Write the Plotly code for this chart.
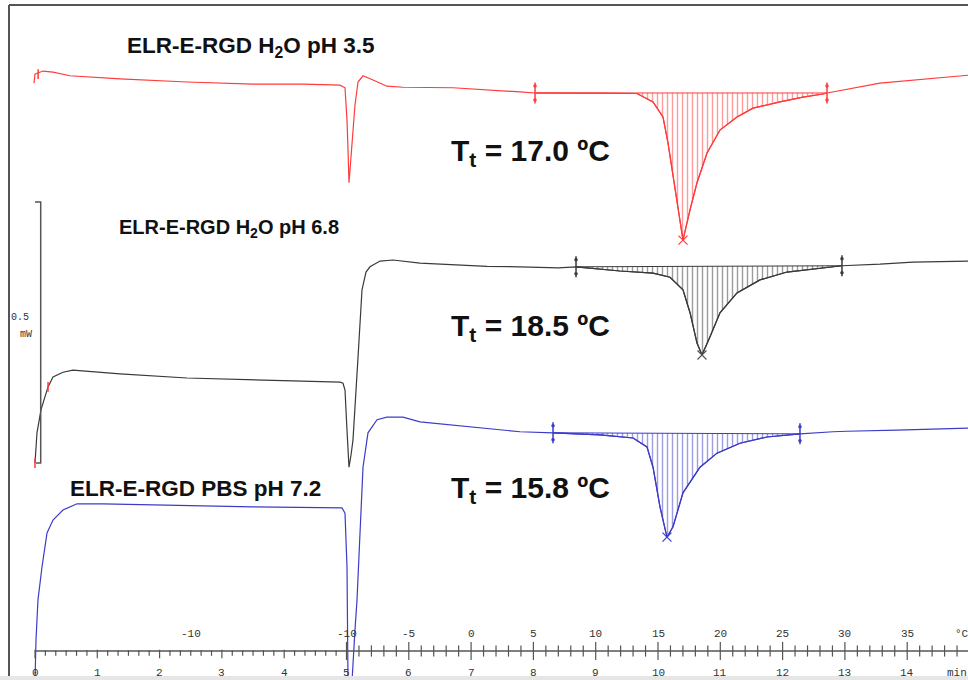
import plotly.graph_objects as go
import numpy as np

# ---------------- data (time in min, heat flow in mW, stacked as displayed) ----------------
red_t = [-0.016, 0.000, 0.128, 0.289, 0.562, 1.364, 2.440, 3.499, 4.302, 4.896, 4.976, 5.008, 5.024,
         5.040, 5.056, 5.088, 5.136, 5.185, 5.265, 5.425, 5.650, 5.907, 6.709, 7.785, 8.026, 9.069,
         9.663, 9.920, 10.080, 10.161, 10.241, 10.321, 10.401, 10.514, 10.626, 10.787, 10.995, 11.268,
         11.525, 11.958, 12.327, 12.648, 12.713, 13.563, 14.093, 14.976]
red_q = [1.088, 1.105, 1.111, 1.109, 1.102, 1.096, 1.090, 1.086, 1.086, 1.084, 1.079, 1.017, 0.960,
         0.897, 0.921, 0.979, 1.046, 1.090, 1.102, 1.094, 1.082, 1.080, 1.079, 1.071, 1.069, 1.069,
         1.068, 1.052, 1.023, 0.973, 0.908, 0.845, 0.787, 0.845, 0.897, 0.954, 0.998, 1.023,
         1.040, 1.052, 1.061, 1.067, 1.069, 1.088, 1.094, 1.103]

blk_t = [0.000, 0.032, 0.096, 0.209, 0.289, 0.449, 0.610, 0.835, 1.364, 2.440, 3.499, 4.254, 4.896,
         4.944, 4.976, 5.008, 5.040, 5.072, 5.104, 5.185, 5.249, 5.313, 5.377, 5.538, 5.746, 6.180,
         7.255, 7.785, 8.400, 8.684, 9.390, 9.920, 10.193, 10.401, 10.514, 10.626, 10.706, 10.835,
         10.995, 11.268, 11.637, 12.071, 12.600, 12.953, 13.563, 14.093, 14.976]
blk_q = [0.360, 0.418, 0.462, 0.506, 0.525, 0.534, 0.538, 0.536, 0.531, 0.523, 0.519, 0.517, 0.515,
         0.513, 0.500, 0.423, 0.352, 0.375, 0.404, 0.563, 0.692, 0.726, 0.736, 0.747, 0.749, 0.743,
         0.737, 0.736, 0.734, 0.736, 0.728, 0.724, 0.716, 0.692, 0.648, 0.590, 0.567, 0.602,
         0.648, 0.686, 0.711, 0.726, 0.734, 0.738, 0.741, 0.745, 0.747]

blu_t = [0.000, 0.016, 0.048, 0.112, 0.193, 0.289, 0.449, 0.674, 1.091, 2.440, 3.499, 4.928, 4.976,
         5.008, 5.024, 5.056, 5.088, 5.136, 5.169, 5.217, 5.265, 5.345, 5.490, 5.650, 5.907, 6.180,
         6.709, 7.785, 8.315, 9.069, 9.599, 9.823, 9.920, 10.032, 10.144, 10.241, 10.401, 10.674,
         10.947, 11.316, 11.750, 12.279, 12.809, 13.034, 13.836, 14.976]
blu_q = [-0.059, 0.021, 0.098, 0.161, 0.226, 0.251, 0.270, 0.282, 0.282, 0.278, 0.276, 0.274, 0.264,
         0.161, -0.059, -0.075, -0.059, 0.040, 0.098, 0.226, 0.352, 0.418, 0.443, 0.448, 0.448, 0.439,
         0.433, 0.420, 0.418, 0.414, 0.408, 0.391, 0.352, 0.276, 0.218, 0.238, 0.303, 0.352,
         0.379, 0.398, 0.410, 0.416, 0.420, 0.421, 0.423, 0.427]

# integration limits (min) and baseline values (mW)
red_lim, red_base = [8.026, 12.713], [1.069, 1.069]
blk_lim, blk_base = [8.684, 12.953], [0.736, 0.738]
blu_lim, blu_base = [8.315, 12.279], [0.418, 0.416]

# peak minima
peaks_t = [10.401, 10.706, 10.144]
peaks_q = [0.787, 0.567, 0.218]

labels = ["ELR-E-RGD H<sub>2</sub>O pH 3.5", "ELR-E-RGD H<sub>2</sub>O pH 6.8", "ELR-E-RGD PBS pH 7.2"]
tt_labels = ["T<sub>t</sub> = 17.0 ºC", "T<sub>t</sub> = 18.5 ºC", "T<sub>t</sub> = 15.8 ºC"]

minute_ticks = list(range(0, 15))
temp_ticks = [-10, -5, 0, 5, 10, 15, 20, 25, 30, 35]   # ramp 5 °C/min starting at -10 °C at 5 min

RED, BLK, BLU = "#ff3b3b", "#3a3a3a", "#3c3cc8"
AX = "#555555"
PX = 1 / 522.0          # mW per pixel (0.5 mW bar = 261 px)
MPX = 1 / 62.3          # min per pixel

fig = go.Figure()

def curve(t, q, color, lim, base, name):
    fig.add_trace(go.Scatter(x=t, y=q, mode="lines", line=dict(color=color, width=1.2), name=name))
    # baseline of integration
    fig.add_trace(go.Scatter(x=lim, y=base, mode="lines", line=dict(color=color, width=1), name=name + " baseline"))
    ta = np.array(t); qa = np.array(q)
    sel = (ta >= lim[0] - 1e-9) & (ta <= lim[1] + 1e-9)
    fig.add_trace(go.Scatter(x=ta[sel], y=qa[sel], mode="lines", line=dict(color=color, width=1.2),
                             fill="tonexty", fillcolor="rgba(0,0,0,0)",
                             fillpattern=dict(shape="|", size=5, solidity=0.28, fgcolor=color,
                                              bgcolor="rgba(0,0,0,0)"),
                             name=name + " area"))
    # integration limit markers (bracket with end dots)
    fig.add_trace(go.Scatter(x=lim, y=base, mode="markers",
                             marker=dict(symbol="line-ns", size=15, line=dict(color=color, width=1.5)),
                             name=name + " limits"))
    fig.add_trace(go.Scatter(x=lim + lim, y=[b + 7 * PX for b in base] + [b - 7 * PX for b in base],
                             mode="markers", marker=dict(symbol="circle", size=3.5, color=color),
                             name=name + " limit ends"))

curve(red_t, red_q, RED, red_lim, red_base, "pH 3.5")
curve(blk_t, blk_q, BLK, blk_lim, blk_base, "pH 6.8")
curve(blu_t, blu_q, BLU, blu_lim, blu_base, "PBS pH 7.2")

# peak markers
for pt, pq, c in zip(peaks_t, peaks_q, [RED, AX, BLU]):
    fig.add_trace(go.Scatter(x=[pt], y=[pq], mode="markers",
                             marker=dict(symbol="x-thin", size=9, line=dict(color=c, width=1.2))))

# small red event marks
fig.add_trace(go.Scatter(x=[0.05, 0.209, 0.0], y=[1.105, 0.506, 0.360], mode="markers",
                         marker=dict(symbol="line-ns", size=7, line=dict(color=RED, width=1.5))))

# 0.5 mW scale bar
fig.add_trace(go.Scatter(x=[0.0, 0.0915, 0.0915, 0.016], y=[0.860, 0.860, 0.360, 0.360], mode="lines",
                         line=dict(color=AX, width=1.5)))

# time / temperature axis line
fig.add_trace(go.Scatter(x=[0, 15.2], y=[0, 0], mode="lines", line=dict(color=AX, width=1.5)))
# isothermal segment ticks (every 10 s, down only)
iso_minor = [i / 6 for i in range(0, 31) if i % 6 != 0]
fig.add_trace(go.Scatter(x=iso_minor, y=[-2 * PX] * len(iso_minor), mode="markers",
                         marker=dict(symbol="line-ns", size=4, line=dict(color=AX, width=1.2))))
iso_major = [0, 1, 2, 3, 4]
fig.add_trace(go.Scatter(x=iso_major, y=[-3 * PX] * len(iso_major), mode="markers",
                         marker=dict(symbol="line-ns", size=6, line=dict(color=AX, width=1.2))))
# ramp segment ticks (every 1 °C, major every 5 °C)
ramp_minor = [5 + 0.2 * i for i in range(0, 51) if i % 5 != 0]
fig.add_trace(go.Scatter(x=ramp_minor, y=[0] * len(ramp_minor), mode="markers",
                         marker=dict(symbol="line-ns", size=8, line=dict(color=AX, width=1.2))))
ramp_major = [7 + T / 5 for T in temp_ticks]
fig.add_trace(go.Scatter(x=ramp_major, y=[0] * len(ramp_major), mode="markers",
                         marker=dict(symbol="line-ns", size=13, line=dict(color=AX, width=1.2))))

tickfont = dict(family="Liberation Mono", size=11, color="#333333")
ann = []
for m in minute_ticks:
    ann.append(dict(x=m, y=-22 * PX, text=str(m), showarrow=False, font=tickfont))
ann.append(dict(x=14.80, y=-22 * PX, text="min", showarrow=False, font=tickfont))
ann.append(dict(x=2.5, y=17 * PX, text="-10", showarrow=False, font=tickfont))
for T in temp_ticks:
    ann.append(dict(x=7 + T / 5, y=17 * PX, text=str(T), showarrow=False, font=tickfont))
ann.append(dict(x=14.88, y=17 * PX, text="°C", showarrow=False, font=tickfont))
small = dict(family="Liberation Mono", size=10, color="#333333")
ann.append(dict(x=-0.24, y=0.638, text="0.5", showarrow=False, font=small))
ann.append(dict(x=-0.15, y=0.607, text="mW", showarrow=False, font=small))

for (x, y), txt, fs in zip([(3.467, 1.157), (3.114, 0.810), (2.584, 0.312)], labels, [22.5, 20, 22.5]):
    ann.append(dict(x=x, y=y, text="<b>" + txt + "</b>", showarrow=False,
                    font=dict(family="Liberation Sans", size=fs, color="#111111")))
tt_font = dict(family="Liberation Sans", size=30, color="#111111")
for y, txt in zip([0.955, 0.620, 0.309], tt_labels):
    ann.append(dict(x=7.96, y=y, text="<b>" + txt + "</b>", showarrow=False, font=tt_font))

fig.update_layout(
    width=968, height=680, margin=dict(l=0, r=0, t=0, b=0),
    paper_bgcolor="white", plot_bgcolor="white", showlegend=False, hovermode=False,
    xaxis=dict(visible=False, range=[-35 * MPX, 933 * MPX]),
    yaxis=dict(visible=False, range=[-29 * PX, 651 * PX]),
    annotations=ann,
    shapes=[
        dict(type="line", xref="paper", yref="paper", x0=9 / 968, x1=9 / 968, y0=4 / 680, y1=675 / 680,
             line=dict(color="#555555", width=2)),
        dict(type="line", xref="paper", yref="paper", x0=9 / 968, x1=1, y0=675 / 680, y1=675 / 680,
             line=dict(color="#555555", width=2)),
        dict(type="rect", xref="paper", yref="paper", x0=0, x1=1, y0=0, y1=4 / 680,
             fillcolor="#e6e6e6", line=dict(width=0)),
    ],
)

# remove the default 8 px page margin so the 968x680 figure fills the window exactly
fig.write_html("out.html", config={"displayModeBar": False},
               post_script="document.body.style.margin='0';document.body.style.overflow='hidden';")
